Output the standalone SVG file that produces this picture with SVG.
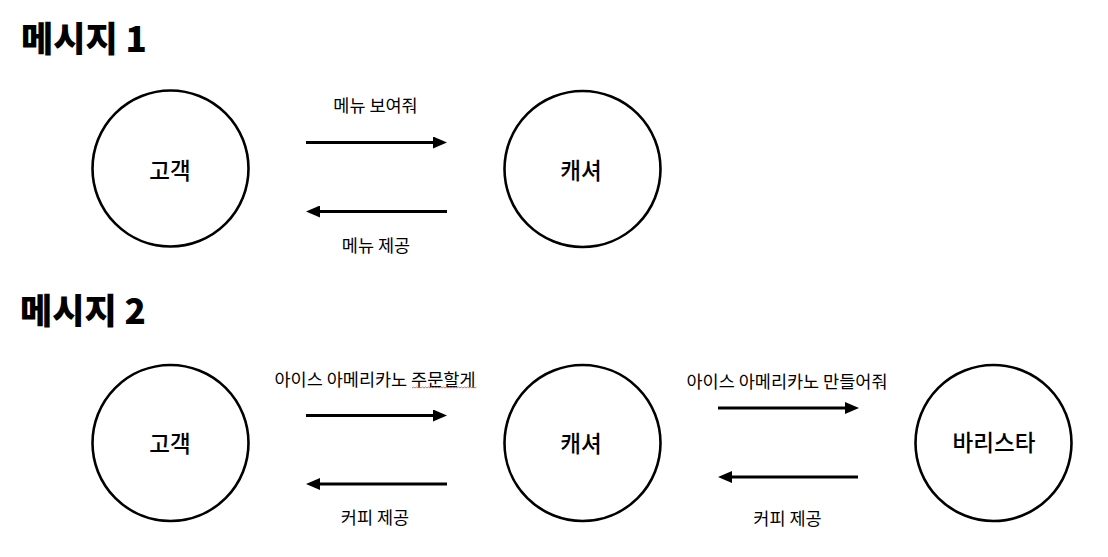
<svg xmlns="http://www.w3.org/2000/svg" width="1108" height="557" viewBox="0 0 1108 557">
<style>
  text { font-family: "Noto Sans CJK KR", "Noto Sans", sans-serif; fill: #000; dominant-baseline: central; }
  .title { font-size: 35px; font-weight: 900; }
  .node circle { fill: #fff; stroke: #000; stroke-width: 2.6; }
  .node text { font-size: 22.5px; font-weight: 500; text-anchor: middle; }
  .label { font-size: 17.5px; text-anchor: middle; }
  .conn line { stroke: #000; stroke-width: 3; marker-end: url(#arrow); }
</style>
<defs>
  <marker id="arrow" markerUnits="userSpaceOnUse" markerWidth="14" markerHeight="12" refX="1" refY="6" orient="auto">
    <path d="M0,0 L14,6 L0,12 z" fill="#000"/>
  </marker>
</defs>
<rect width="1108" height="557" fill="#fff"/>

<text class="title" x="21" y="36">메시지 1</text>
<text class="title" x="20" y="308">메시지 2</text>

<g id="m1-customer" class="node"><circle cx="170.5" cy="168.5" r="78"/><text x="170" y="168.5">고객</text></g>
<g id="m1-cashier" class="node"><circle cx="582.5" cy="169" r="78"/><text x="581" y="169">캐셔</text></g>
<g id="m2-customer" class="node"><circle cx="170.5" cy="443" r="78"/><text x="170" y="442">고객</text></g>
<g id="m2-cashier" class="node"><circle cx="582.5" cy="443" r="78"/><text x="581" y="442">캐셔</text></g>
<g id="m2-barista" class="node"><circle cx="993.5" cy="443" r="78"/><text x="994" y="441">바리스타</text></g>

<g id="connectors" class="conn">
  <line x1="306" y1="142.5" x2="434" y2="142.5"/>
  <line x1="447" y1="211.5" x2="319" y2="211.5"/>
  <line x1="306" y1="415.5" x2="434" y2="415.5"/>
  <line x1="447" y1="484" x2="319" y2="484"/>
  <line x1="718" y1="408" x2="846" y2="408"/>
  <line x1="858" y1="477" x2="731" y2="477"/>
</g>

<g id="labels">
  <text class="label" x="375.5" y="104.5">메뉴 보여줘</text>
  <text class="label" x="376" y="244.5">메뉴 제공</text>
  <text class="label" x="375" y="378.5">아이스 아메리카노 주문할게</text>
  <path d="M412,388 l1.5,-1 l1.5,1 l1.5,-1 l1.5,1 l1.5,-1 l1.5,1 l1.5,-1 l1.5,1 l1.5,-1 l1.5,1 l1.5,-1 l1.5,1 l1.5,-1 l1.5,1 l1.5,-1 l1.5,1 l1.5,-1 l1.5,1 l1.5,-1 l1.5,1 l1.5,-1 l1.5,1 l1.5,-1 l1.5,1 l1.5,-1 l1.5,1 l1.5,-1 l1.5,1 l1.5,-1 l1.5,1 l1.5,-1 l1.5,1 l1.5,-1 l1.5,1 l1.5,-1 l1.5,1 l1.5,-1 l1.5,1 l1.5,-1 l1.5,1 l1.5,-1 l1.5,1 l1.5,-1" fill="none" stroke="#e0443e" stroke-width="0.8"/>
  <text class="label" x="375" y="516.5">커피 제공</text>
  <text class="label" x="787" y="380">아이스 아메리카노 만들어줘</text>
  <text class="label" x="787.5" y="517">커피 제공</text>
</g>
</svg>
